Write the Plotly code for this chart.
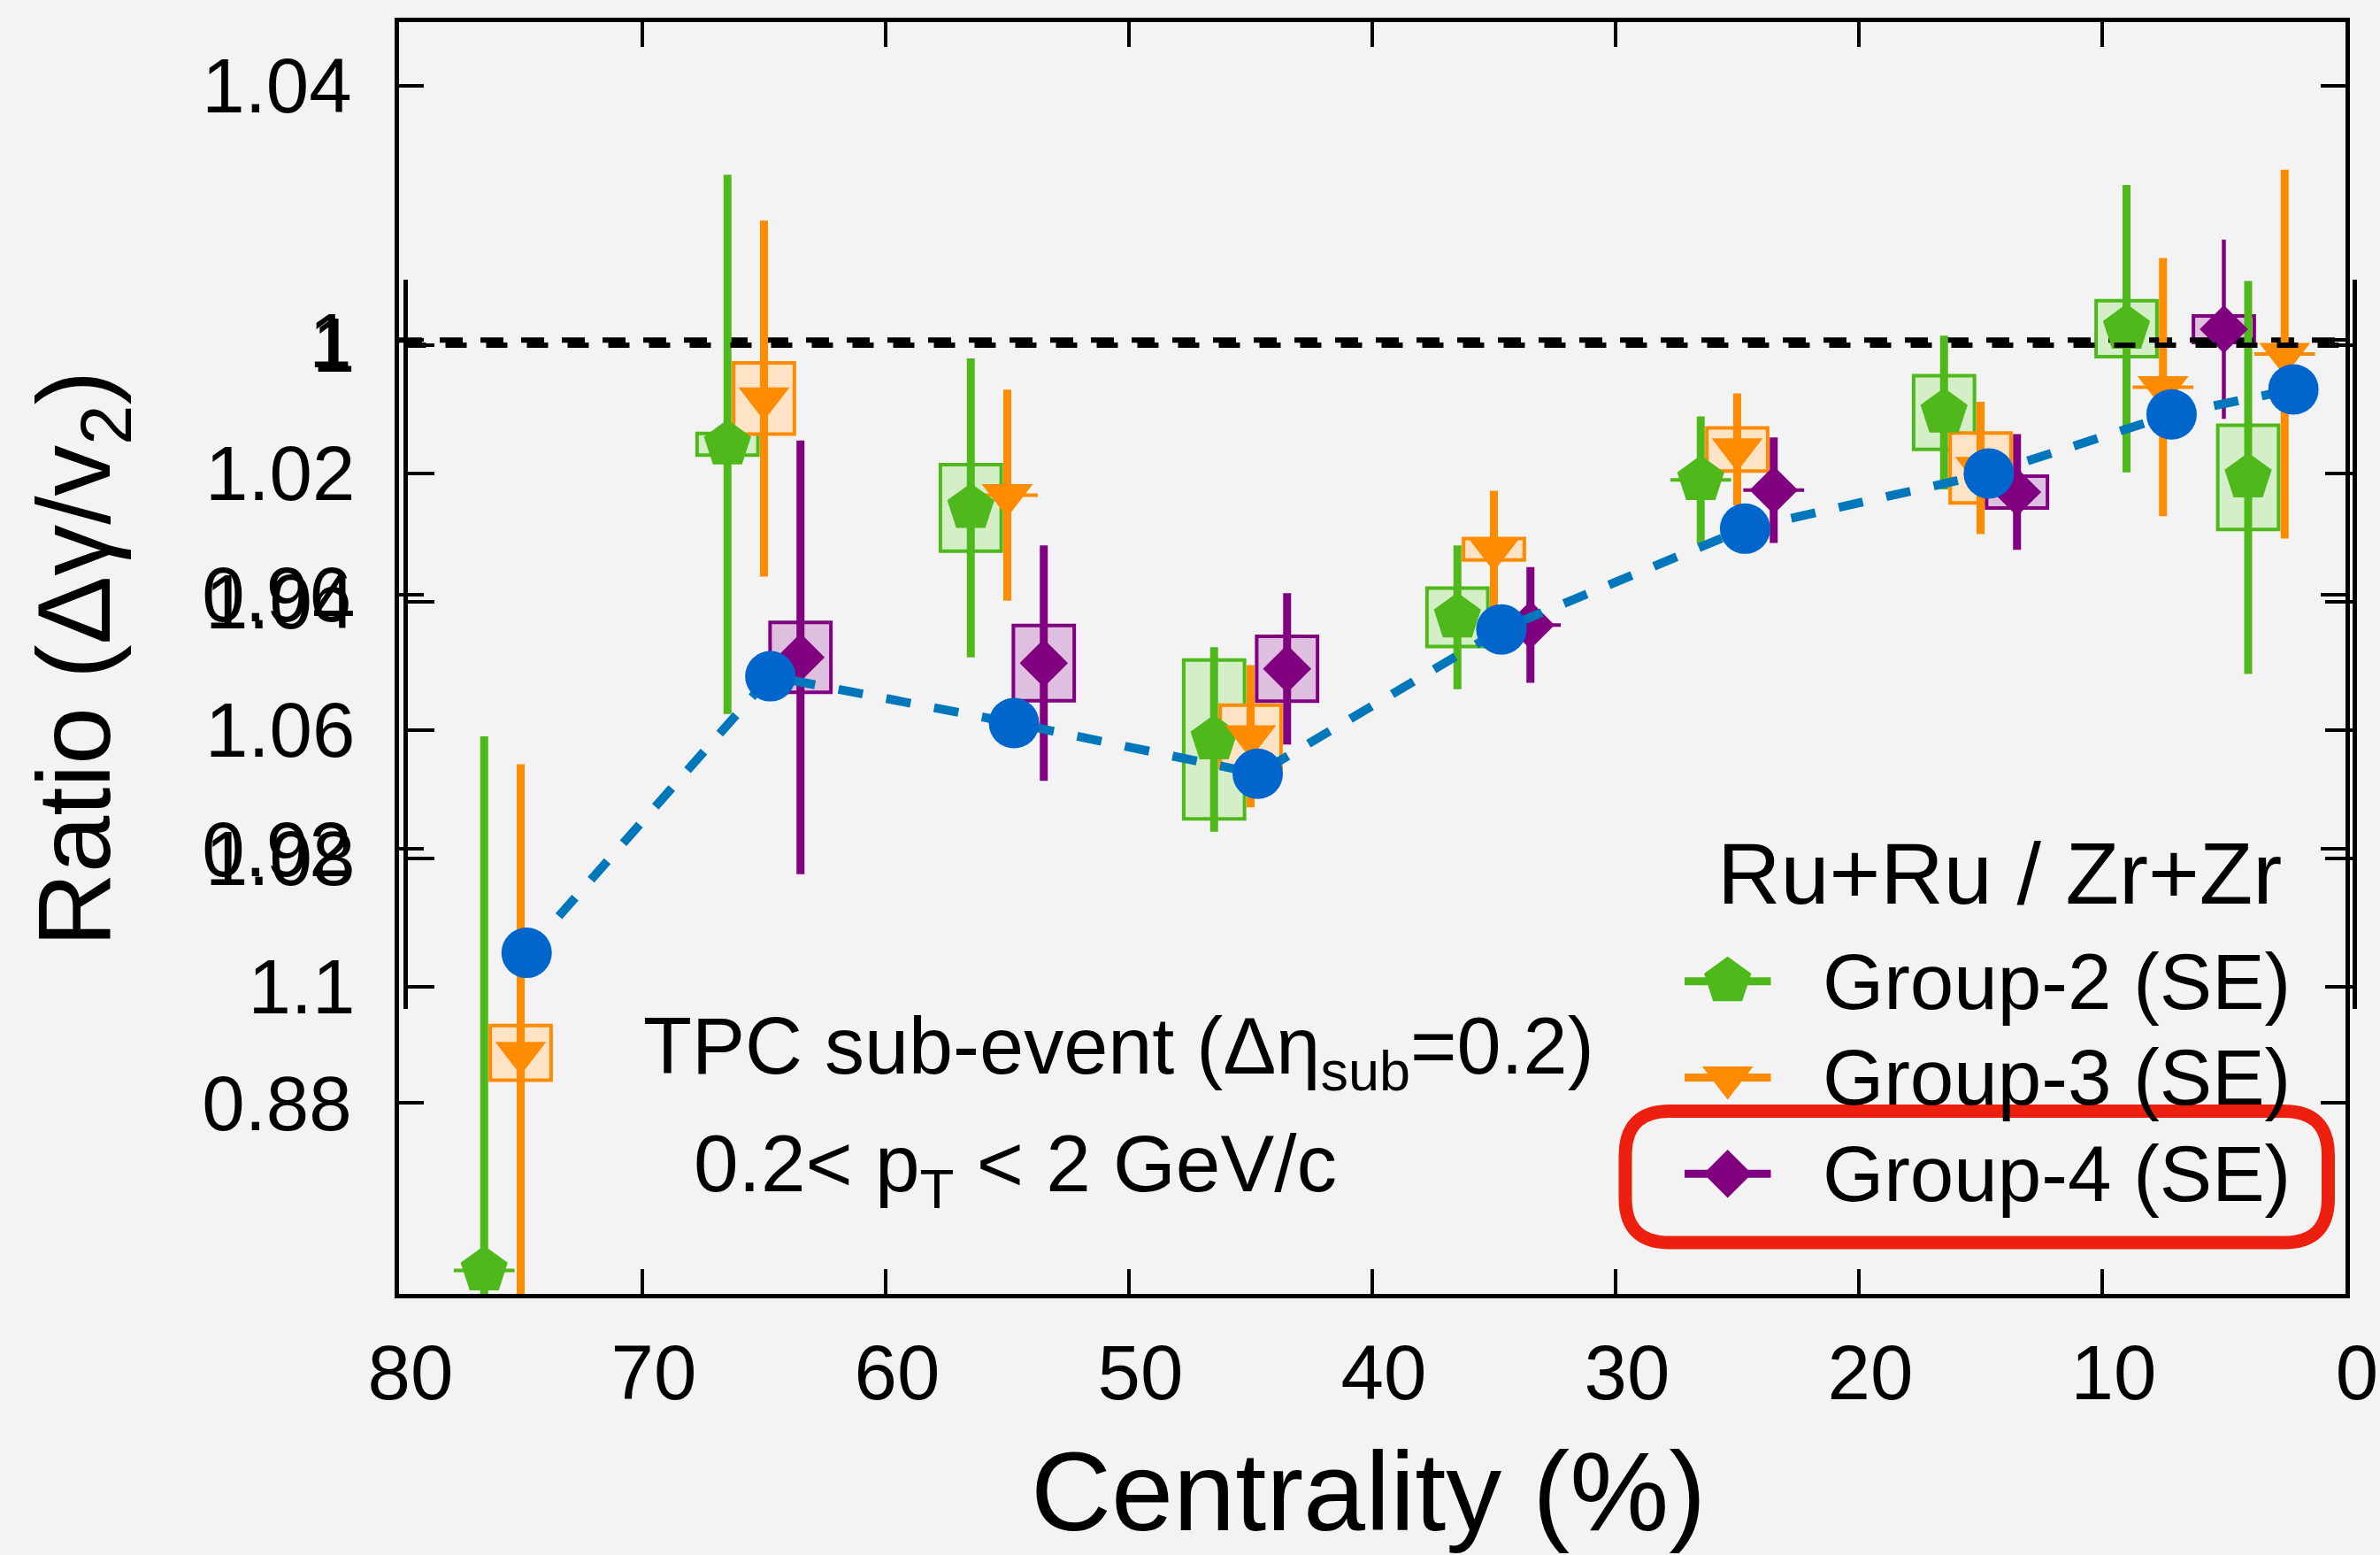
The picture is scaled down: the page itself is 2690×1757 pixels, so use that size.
import plotly.graph_objects as go

# ---------------- data ----------------
g2_x = [76.5, 66.5, 56.5, 46.5, 36.5, 26.5, 16.5, 9.0, 4.0]
g2_y = [0.8537, 0.9836, 0.9736, 0.9372, 0.9564, 0.9780, 0.9886, 1.0018, 0.9784]
g2_stat = [0.0840, 0.0424, 0.0235, 0.0145, 0.0113, 0.0100, 0.0121, 0.0226, 0.0309]
g2_sys = [0.0, 0.0017, 0.0068, 0.0125, 0.0046, 0.0, 0.0058, 0.0044, 0.0082]

g3_x = [75.0, 65.0, 55.0, 45.0, 35.0, 25.0, 15.0, 7.5, 2.5]
g3_y = [0.8879, 0.9908, 0.9756, 0.9377, 0.9671, 0.9828, 0.9799, 0.9926, 0.9978]
g3_stat = [0.0454, 0.0280, 0.0166, 0.0112, 0.0092, 0.0088, 0.0104, 0.0203, 0.0290]
g3_sys = [0.0043, 0.0056, 0.0, 0.0049, 0.0017, 0.0034, 0.0055, 0.0, 0.0]

g4_x = [63.5, 53.5, 43.5, 33.5, 23.5, 13.5, 5.0]
g4_y = [0.9501, 0.9492, 0.9483, 0.9552, 0.9764, 0.9761, 1.0017]
g4_stat = [0.0341, 0.0185, 0.0119, 0.0091, 0.0083, 0.0091, 0.0141]
g4_sys = [0.0055, 0.0059, 0.0051, 0.0, 0.0, 0.0025, 0.0021]

blue_x = [75.0, 65.0, 55.0, 45.0, 35.0, 25.0, 15.0, 7.5, 2.5]
blue_y = [1.0947, 1.0516, 1.0589, 1.0668, 1.0443, 1.0286, 1.0200, 1.0108, 1.0069]

ref_x = [80, 0]
ref_y = [1.0, 1.0]

x_ticks = [80, 70, 60, 50, 40, 30, 20, 10, 0]
y_ticks = [0.88, 0.92, 0.96, 1.0, 1.04]
y_ticklabels = ["0.88", "0.92", "0.96", "1", "1.04"]
y2_ticks = [1.0, 1.02, 1.04, 1.06, 1.08, 1.1]
y2_ticklabels = ["1", "1.02", "1.04", "1.06", "1.08", "1.1"]

legend_names = ["Group-2 (SE)", "Group-3 (SE)", "Group-4 (SE)"]
legend_title = "Ru+Ru / Zr+Zr"

# ---------------- layout geometry ----------------
W, H = 2690, 1757
ML, MR, MT, MB = 451, 29, 25, 295
PW = W - ML - MR
PH = H - MT - MB


def px2x(px):
    return (px - ML) / PW


def px2y(py):
    return (H - MB - py) / PH


GREEN, ORANGE, PURPLE = "#4fb81b", "#ff8c00", "#800080"
GREEN_F, ORANGE_F, PURPLE_F = "#d4eec8", "#ffe3c4", "#dfbfdf"
BLUE_M, BLUE_L = "#0066cc", "#0077bb"
FONT = "Liberation Sans, Arial, Helvetica, sans-serif"
BOX_HW = 1.25

fig = go.Figure()


def errtrace(x, y, e, color, symbol, size, thick, name):
    return go.Scatter(
        x=x, y=y, mode="markers", name=name, showlegend=False,
        marker=dict(symbol=symbol, size=size, color=color, line=dict(width=0)),
        error_y=dict(type="data", array=e, visible=True, thickness=thick,
                     width=0, color=color),
        xaxis="x", yaxis="y", hoverinfo="skip", cliponaxis=True)


# reference line (main)
fig.add_trace(go.Scatter(x=ref_x, y=ref_y, mode="lines", showlegend=False,
                         line=dict(color="black", width=6, dash="26px,20px"),
                         xaxis="x", yaxis="y", hoverinfo="skip"))

fig.add_trace(errtrace(g2_x, g2_y, g2_stat, GREEN, "pentagon", 56, 9, legend_names[0]))
fig.add_trace(errtrace(g3_x, g3_y, g3_stat, ORANGE, "triangle-down", 50, 9, legend_names[1]))
fig.add_trace(errtrace(g4_x[:-1], g4_y[:-1], g4_stat[:-1], PURPLE, "diamond", 42, 9, legend_names[2]))
fig.add_trace(errtrace(g4_x[-1:], g4_y[-1:], g4_stat[-1:], PURPLE, "diamond", 42, 4.5, legend_names[2]))

# systematic boxes
shapes = []
for xs, ys, ss, lc, fc in [(g2_x, g2_y, g2_sys, GREEN, GREEN_F),
                           (g3_x, g3_y, g3_sys, ORANGE, ORANGE_F),
                           (g4_x, g4_y, g4_sys, PURPLE, PURPLE_F)]:
    for xv, yv, sv in zip(xs, ys, ss):
        shapes.append(dict(type="rect", xref="x", yref="y",
                           x0=xv - BOX_HW, x1=xv + BOX_HW, y0=yv - sv, y1=yv + sv,
                           line=dict(color=lc, width=4), fillcolor=fc, layer="below"))

# overlay (second, inverted scale)
fig.add_trace(go.Scatter(x=ref_x, y=ref_y, mode="lines", showlegend=False,
                         line=dict(color="black", width=6, dash="24px,22px"),
                         xaxis="x2", yaxis="y3", hoverinfo="skip"))
fig.add_trace(go.Scatter(x=blue_x, y=blue_y, mode="lines", showlegend=False,
                         line=dict(color=BLUE_L, width=10, dash="28px,27px"),
                         xaxis="x2", yaxis="y2", hoverinfo="skip"))
fig.add_trace(go.Scatter(x=blue_x, y=blue_y, mode="markers", showlegend=False,
                         marker=dict(symbol="circle", size=57, color=BLUE_M, line=dict(width=0)),
                         xaxis="x2", yaxis="y2", hoverinfo="skip"))

# custom legend glyphs (paper-like overlay axes)
leg_rows_px = [1108.7, 1217.4, 1326.2]
leg_cols = [GREEN, ORANGE, PURPLE]
leg_syms = ["pentagon", "triangle-down", "diamond"]
leg_sizes = [56, 50, 42]
for ry, c, s, sz in zip(leg_rows_px, leg_cols, leg_syms, leg_sizes):
    yy = px2y(ry)
    fig.add_trace(go.Scatter(x=[px2x(1904), px2x(2001.5)], y=[yy, yy], mode="lines",
                             line=dict(color=c, width=9), showlegend=False,
                             xaxis="x3", yaxis="y4", hoverinfo="skip"))
    fig.add_trace(go.Scatter(x=[px2x(1952.7)], y=[yy], mode="markers",
                             marker=dict(symbol=s, size=sz, color=c, line=dict(width=0)),
                             showlegend=False, xaxis="x3", yaxis="y4", hoverinfo="skip"))

annotations = []
for ry, name in zip(leg_rows_px, legend_names):
    annotations.append(dict(x=px2x(2058), y=px2y(ry), xref="paper", yref="paper",
                            text=name, showarrow=False, xanchor="left", yanchor="middle",
                            font=dict(family=FONT, size=89, color="black")))
annotations.append(dict(x=px2x(1939), y=px2y(986), xref="paper", yref="paper",
                        text=legend_title, showarrow=False, xanchor="left", yanchor="middle",
                        font=dict(family=FONT, size=99, color="black")))
annotations.append(dict(x=px2x(725), y=px2y(1188), xref="paper", yref="paper",
                        text="TPC sub-event (Δη<sub>sub</sub>=0.2)", showarrow=False,
                        xanchor="left", yanchor="middle",
                        font=dict(family=FONT, size=90, color="black")))
annotations.append(dict(x=px2x(782), y=px2y(1321), xref="paper", yref="paper",
                        text="0.2&lt; p<sub>T</sub> &lt; 2 GeV/c", showarrow=False,
                        xanchor="left", yanchor="middle",
                        font=dict(family=FONT, size=91, color="black")))
annotations.append(dict(x=px2x(1546), y=px2y(1685), xref="paper", yref="paper",
                        text="Centrality (%)", showarrow=False,
                        xanchor="center", yanchor="middle",
                        font=dict(family=FONT, size=126, color="black")))
annotations.append(dict(x=px2x(92), y=px2y(745), xref="paper", yref="paper",
                        text="Ratio (Δγ/v<sub>2</sub>)", showarrow=False, textangle=-90,
                        xanchor="center", yanchor="middle",
                        font=dict(family=FONT, size=116, color="black")))

# highlight rounded box
def rrect(x0, y0, x1, y1, r):
    X0, X1, YT, YB = px2x(x0), px2x(x1), px2y(y0), px2y(y1)
    rx, ry = r / PW, r / PH
    return (f"M {X0+rx},{YT} L {X1-rx},{YT} Q {X1},{YT} {X1},{YT-ry} "
            f"L {X1},{YB+ry} Q {X1},{YB} {X1-rx},{YB} L {X0+rx},{YB} "
            f"Q {X0},{YB} {X0},{YB+ry} L {X0},{YT-ry} Q {X0},{YT} {X0+rx},{YT} Z")

shapes.append(dict(type="path", xref="paper", yref="paper",
                   path=rrect(1837, 1255.5, 2631.5, 1404, 50),
                   line=dict(color="#ed2010", width=15), fillcolor="rgba(0,0,0,0)",
                   layer="above"))

tickfont = dict(family=FONT, size=87, color="black")
x_end = (2651 - ML) / PW

fig.update_layout(
    width=W, height=H,
    margin=dict(l=ML, r=MR, t=MT, b=MB, pad=0, autoexpand=False),
    paper_bgcolor="#f3f3f3", plot_bgcolor="rgba(0,0,0,0)",
    showlegend=False, hovermode=False,
    shapes=shapes, annotations=annotations,
    xaxis=dict(domain=[0, x_end], range=[80, 0], tickvals=x_ticks,
               ticktext=[str(v) for v in x_ticks], ticks="inside", ticklen=28,
               tickwidth=4, tickcolor="black", showline=True, linewidth=5,
               linecolor="black", mirror="ticks", showgrid=False, zeroline=False,
               tickfont=tickfont, ticklabelstandoff=10, ticklabelshift=-13,
               anchor="y", automargin=False),
    yaxis=dict(domain=[0, 1], range=[0.85, 1.05], tickvals=y_ticks,
               ticktext=y_ticklabels, ticks="inside", ticklen=28, tickwidth=4,
               tickcolor="black", showline=True, linewidth=5, linecolor="black",
               mirror="ticks", showgrid=False, zeroline=False, tickfont=tickfont,
               ticklabelstandoff=31, anchor="x", automargin=False),
    xaxis2=dict(domain=[6.5 / PW, 1.0], range=[80, 0], visible=False, anchor="y2",
                automargin=False),
    yaxis2=dict(domain=[px2y(1140), px2y(316)], range=[1.10345, 0.9898],
                tickvals=y2_ticks, ticktext=y2_ticklabels, ticks="inside",
                ticklen=31, tickwidth=4, tickcolor="black", showline=True,
                linewidth=4.5, linecolor="black", showgrid=False, zeroline=False,
                tickfont=tickfont, ticklabelstandoff=37, anchor="free",
                position=6.5 / PW, side="left", automargin=False),
    yaxis3=dict(overlaying="y2", range=[1.10345, 0.9898], tickvals=y2_ticks,
                ticks="inside", ticklen=31, tickwidth=4, tickcolor="black",
                showline=True, linewidth=4.5, linecolor="black", showgrid=False,
                zeroline=False, showticklabels=False, anchor="free",
                position=1.0, side="right", automargin=False),
    xaxis3=dict(domain=[0, 1], range=[0, 1], visible=False, anchor="y4",
                automargin=False),
    yaxis4=dict(domain=[0, 1], range=[0, 1], visible=False, anchor="x3",
                automargin=False),
)

fig.write_html("out.html", config={"displayModeBar": False})
